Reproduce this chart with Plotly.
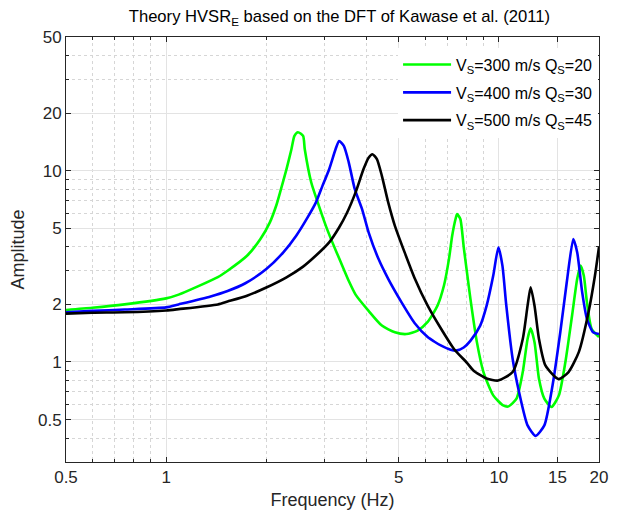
import plotly.graph_objects as go

# Vs=300 m/s, Qs=20
freq_green = [0.5, 0.6, 0.75, 1.0, 1.09, 1.43, 1.53, 1.75, 1.92, 2.05, 2.15, 2.20, 2.30, 2.38, 2.43,
              2.49, 2.58, 2.61, 2.73, 2.855, 3.02, 3.16, 3.35, 3.54, 3.71, 4.06, 4.45, 4.87, 5.27, 5.70,
              6.11, 6.54, 6.84, 7.08, 7.24, 7.41, 7.49, 7.66, 7.84, 8.02, 8.21, 8.59, 8.99, 9.62, 10.3,
              10.7, 11.3, 11.8, 12.2, 12.46, 12.8, 13.2, 13.7, 14.4, 15.15, 15.85, 16.6, 17.2, 17.6, 18.0,
              18.4, 19.0, 20.0]
amp_green = [1.87, 1.92, 2.0, 2.15, 2.25, 2.78, 3.0, 3.59, 4.39, 5.37, 6.7, 7.7, 10.2, 12.95, 15.2,
             15.9, 15.2, 12.95, 8.68, 6.83, 5.15, 4.22, 3.32, 2.65, 2.25, 1.85, 1.55, 1.43, 1.40, 1.46,
             1.62, 1.97, 2.51, 3.45, 4.57, 5.59, 5.93, 5.59, 4.0, 2.94, 2.15, 1.27, 0.886, 0.669, 0.593,
             0.586, 0.643, 0.886, 1.32, 1.50, 1.27, 0.817, 0.643, 0.582, 0.669, 1.0, 1.75, 2.72, 3.19, 2.83,
             2.05, 1.49, 1.35]

# Vs=400 m/s, Qs=30
freq_blue = [0.5, 0.6, 0.75, 1.0, 1.09, 1.36, 1.53, 1.73, 2.0, 2.25, 2.46, 2.67, 2.82, 2.95, 3.09,
             3.23, 3.31, 3.42, 3.54, 3.69, 3.88, 4.06, 4.35, 4.65, 5.10, 5.58, 6.11, 6.39, 6.69, 7.16,
             7.49, 7.84, 8.21, 8.79, 9.19, 9.62, 9.97, 10.25, 10.53, 11.0, 11.5, 12.2, 12.9, 13.7, 14.5,
             15.3, 16.0, 16.74, 17.2, 17.8, 18.4, 19.2, 20.0]
amp_blue = [1.82, 1.85, 1.88, 1.93, 2.0, 2.2, 2.35, 2.58, 3.06, 3.74, 4.57, 5.75, 6.83, 8.33, 10.18,
            12.95, 14.3, 13.47, 11.03, 8.0, 6.30, 4.76, 3.45, 2.72, 2.05, 1.60, 1.35, 1.28, 1.22, 1.16,
            1.15, 1.19, 1.29, 1.55, 1.97, 2.83, 3.98, 3.19, 1.97, 1.04, 0.697, 0.466, 0.411, 0.466, 0.754,
            1.43, 2.61, 4.39, 3.74, 2.32, 1.68, 1.43, 1.40]

# Vs=500 m/s, Qs=45
freq_black = [0.5, 0.6, 0.75, 1.0, 1.09, 1.43, 1.53, 1.75, 2.0, 2.30, 2.58, 2.82, 3.09, 3.31, 3.50,
              3.71, 3.92, 4.06, 4.17, 4.30, 4.45, 4.65, 4.87, 5.21, 5.58, 6.11, 6.69, 7.33, 8.02, 8.40,
              9.19, 9.95, 11.0, 11.8, 12.2, 12.46, 12.8, 13.2, 13.8, 15.1, 16.2, 17.4, 18.6, 19.45, 20.0]
amp_black = [1.79, 1.81, 1.82, 1.86, 1.89, 2.0, 2.07, 2.22, 2.45, 2.77, 3.15, 3.6, 4.22, 5.05, 6.05,
             7.70, 10.2, 11.7, 12.2, 11.5, 9.40, 6.83, 5.15, 3.74, 2.75, 1.97, 1.5, 1.17, 0.99, 0.90,
             0.82, 0.80, 0.886, 1.32, 1.97, 2.46, 1.97, 1.32, 0.959, 0.814, 0.886, 1.13, 1.82, 2.83, 4.0]

series_names = ["V<sub>S</sub>=300 m/s Q<sub>S</sub>=20",
                "V<sub>S</sub>=400 m/s Q<sub>S</sub>=30",
                "V<sub>S</sub>=500 m/s Q<sub>S</sub>=45"]
series_colors = ["#00ff00", "#0000ff", "#000000"]

x_tickvals = [0.5, 1, 5, 10, 15, 20]
x_ticktext = ["0.5", "1", "5", "10", "15", "20"]
x_minor = [0.6, 0.7, 0.8, 0.9, 2, 3, 4, 6, 7, 8, 9]
y_tickvals = [0.5, 1, 2, 5, 10, 20, 50]
y_ticktext = ["0.5", "1", "2", "5", "10", "20", "50"]
y_minor = [0.3, 0.4, 0.6, 0.7, 0.8, 0.9, 3, 4, 6, 7, 8, 9, 30, 40]

FONT = "Liberation Sans, Arial, Helvetica, sans-serif"
AXC = "#262626"

fig = go.Figure()
for i, (fx, ay, nm, col) in enumerate(zip([freq_green, freq_blue, freq_black],
                                          [amp_green, amp_blue, amp_black],
                                          series_names, series_colors)):
    fig.add_trace(go.Scatter(x=fx, y=ay, mode="lines", name=nm, legendgroup="g%d" % i,
                             line=dict(color=col, width=2.6, shape="spline", smoothing=0.6)))

axis_common = dict(
    type="log", showline=True, linecolor=AXC, linewidth=1, mirror="allticks",
    ticks="inside", ticklen=5, tickcolor=AXC, tickwidth=1,
    showgrid=True, gridcolor="#e3e3e3", gridwidth=1, zeroline=False,
    tickfont=dict(family=FONT, size=17, color=AXC),
)

fig.update_xaxes(
    **axis_common, range=[-0.30103, 1.30103], tickmode="array",
    tickvals=x_tickvals, ticktext=x_ticktext,
    minor=dict(tickmode="array", tickvals=x_minor, ticks="inside", ticklen=3, tickcolor=AXC,
               showgrid=True, gridcolor="#d6d6d6", griddash="dot", gridwidth=1),
    title=dict(text="Frequency (Hz)", font=dict(family=FONT, size=18, color=AXC), standoff=6),
)
fig.update_yaxes(
    **axis_common, range=[-0.52288, 1.69897], tickmode="array",
    tickvals=y_tickvals, ticktext=y_ticktext,
    minor=dict(tickmode="array", tickvals=y_minor, ticks="inside", ticklen=3, tickcolor=AXC,
               showgrid=True, gridcolor="#d6d6d6", griddash="dot", gridwidth=1),
    title=dict(text="Amplitude", font=dict(family=FONT, size=18, color=AXC), standoff=8),
)

fig.update_layout(
    width=620, height=518,
    margin=dict(l=66, r=12, t=37, b=54),
    paper_bgcolor="white", plot_bgcolor="white",
    font=dict(family=FONT, color=AXC),
    title=dict(text="Theory HVSR<sub>E</sub> based on the DFT of Kawase et al. (2011)",
               font=dict(family=FONT, size=16.6, color="black"),
               x=0.513, xref="paper", xanchor="center", y=0.968, yref="container", yanchor="middle"),
    legend=dict(x=0.623, y=0.975, xanchor="left", yanchor="top", bgcolor="white",
                borderwidth=0, font=dict(family=FONT, size=16, color="black"),
                tracegroupgap=4, itemwidth=48),
    showlegend=True,
)

fig.write_html("out.html")
